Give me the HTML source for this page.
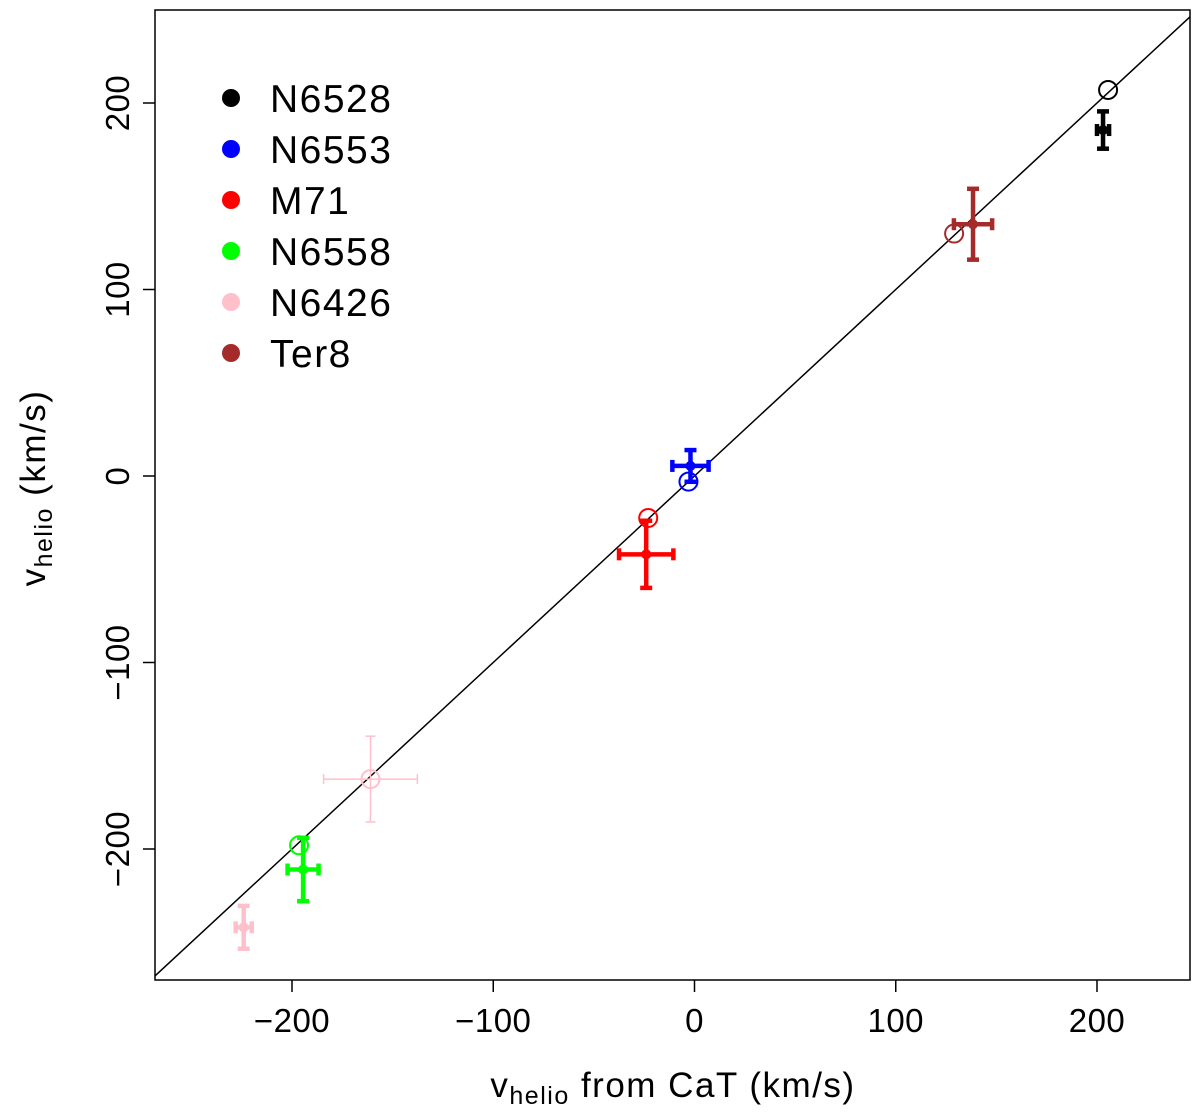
<!DOCTYPE html>
<html><head><meta charset="utf-8"><style>
body{margin:0;background:#fff}
svg{display:block;font-family:"Liberation Sans",sans-serif}
</style></head><body>
<svg id="c" width="1200" height="1112"></svg>
<script>
const names=["N6528","N6553","M71","N6558","N6426","Ter8"];
const colors=["#000000","#0000ff","#ff0000","#00ff00","#ffc0cb","#a52a2a"];
const fx=[203,-2,-24,-194.5,-224,138.4];
const fy=[185.5,5.4,-42,-211,-242,135];
const fxe=[3,9,13.5,7.7,4,9.5];
const fye=[10,8.5,18,17,11.5,19];
const ox=[205.5,-3,-23,-196.5,-161,129];
const oy=[207,-3,-22.5,-198,-162.5,130];
const oxe=[0,0,0,0,23.3,0];
const oye=[0,0,0,0,23,0];
const ticks=[-200,-100,0,100,200];
const X=v=>694.5+v*2.0125, Y=v=>476-v*1.865;
const L=155,R=1190,T=10,B=980;
const s=document.getElementById('c'),NS="http://www.w3.org/2000/svg";
function el(t,a,p){const e=document.createElementNS(NS,t);for(const k in a)e.setAttribute(k,a[k]);(p||s).appendChild(e);return e;}
let e;
e=el('rect',{x:L,y:T,width:R-L,height:B-T,fill:'none',stroke:'#000','stroke-width':1.5});

const vx0=(L-694.5)/2.0125, vx1=(R-694.5)/2.0125;
const cp=el('clipPath',{id:'cl'});el('rect',{x:L,y:T,width:R-L,height:B-T},cp);
e=el('line',{x1:X(vx0),y1:Y(vx0),x2:X(vx1),y2:Y(vx1),stroke:'#000','stroke-width':1.5,'clip-path':'url(#cl)'});

ticks.forEach(t=>{
 el('line',{x1:X(t),y1:B,x2:X(t),y2:B+12,stroke:'#000','stroke-width':1.5});
 e=el('text',{x:X(t),y:1032,'font-size':33,'letter-spacing':0.5,'text-anchor':'middle'});e.textContent=(t<0?'\u2212'+(-t):t);
 
 el('line',{x1:L,y1:Y(t),x2:L-12,y2:Y(t),stroke:'#000','stroke-width':1.5});
 e=el('text',{x:129,y:Y(t),'font-size':33,'letter-spacing':0.5,'text-anchor':'middle',transform:`rotate(-90 129 ${Y(t)})`});e.textContent=(t<0?'\u2212'+(-t):t);
 
});
e=el('text',{x:673,y:1097,'font-size':35,'letter-spacing':1.5,'text-anchor':'middle'});
e.innerHTML='v<tspan font-size="25" dy="7">helio</tspan><tspan dy="-7"> from CaT (km/s)</tspan>';

e=el('text',{x:45,y:488,'font-size':35,'letter-spacing':1.5,'text-anchor':'middle',transform:'rotate(-90 45 488)'});
e.innerHTML='v<tspan font-size="25" dy="7">helio</tspan><tspan dy="-7"> (km/s)</tspan>';

function cross(g,x,y,xe,ye,c,w,cap){
 if(xe>0){el('line',{x1:X(x-xe),y1:Y(y),x2:X(x+xe),y2:Y(y),stroke:c,'stroke-width':w},g);
  [x-xe,x+xe].forEach(v=>el('line',{x1:X(v),y1:Y(y)-cap,x2:X(v),y2:Y(y)+cap,stroke:c,'stroke-width':w},g));}
 if(ye>0){el('line',{x1:X(x),y1:Y(y-ye),x2:X(x),y2:Y(y+ye),stroke:c,'stroke-width':w},g);
  [y-ye,y+ye].forEach(v=>el('line',{x1:X(x)-cap,y1:Y(v),x2:X(x)+cap,y2:Y(v),stroke:c,'stroke-width':w},g));}
}
names.forEach((n,i)=>{
 const g=el('g',{});
 
 
 cross(g,ox[i],oy[i],oxe[i],oye[i],colors[i],1.5,5);
 e=el('circle',{cx:X(ox[i]),cy:Y(oy[i]),r:9,fill:'none',stroke:colors[i],'stroke-width':2},g);
 
 cross(g,fx[i],fy[i],fxe[i],fye[i],colors[i],4.5,6);
 e=el('circle',{cx:X(fx[i]),cy:Y(fy[i]),r:5,fill:colors[i]},g);
 
 const ly=98+i*51;
 const lg=el('g',{});
 
 
 el('circle',{cx:231,cy:ly,r:9,fill:colors[i]},lg);
 e=el('text',{x:270,y:ly+14,'font-size':39,'letter-spacing':1.5},lg);e.textContent=n;
});
</script>
</body></html>
